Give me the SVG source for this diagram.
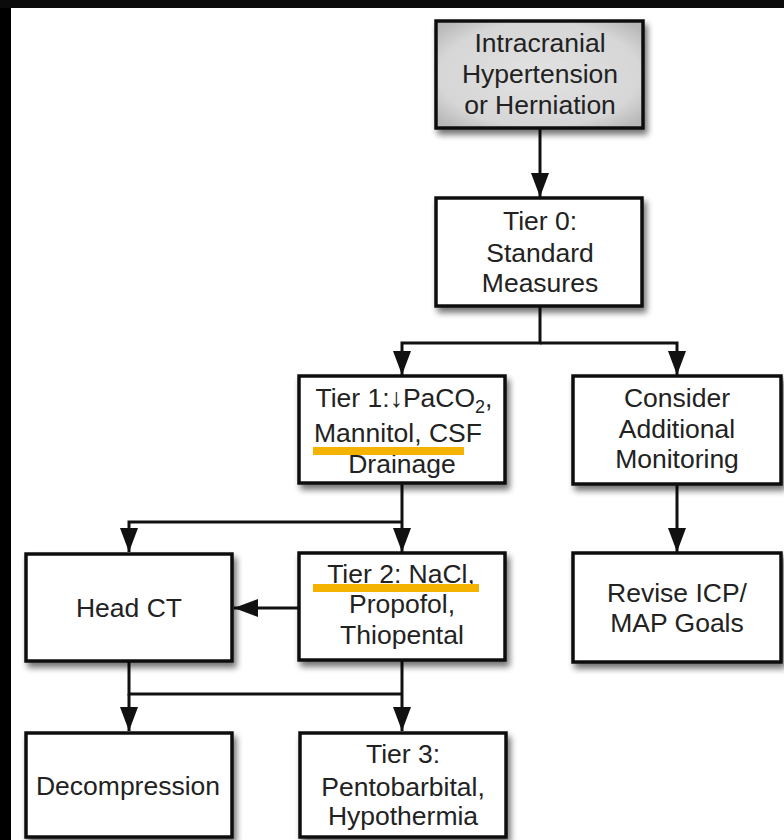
<svg xmlns="http://www.w3.org/2000/svg" width="784" height="840" viewBox="0 0 784 840">
  <defs>
    <style>
      .box { fill: #ffffff; stroke: #111111; stroke-width: 3.5; filter: url(#shadow); }
      .start { fill: url(#startFill); }
      .lbl { font-family: "Liberation Sans", Arial, Helvetica, sans-serif; font-size: 26.5px; fill: #222222; text-anchor: middle; }
      .wire { fill: none; stroke: #111111; stroke-width: 3; }
      .mark { fill: #f5b301; }
    </style>
    <filter id="shadow" x="-10%" y="-10%" width="130%" height="140%">
      <feGaussianBlur in="SourceAlpha" stdDeviation="3"/>
      <feOffset dx="3" dy="5" result="blur"/>
      <feComponentTransfer><feFuncA type="linear" slope="0.55"/></feComponentTransfer>
      <feMerge><feMergeNode/><feMergeNode in="SourceGraphic"/></feMerge>
    </filter>
    <radialGradient id="startFill" cx="50%" cy="50%" r="65%">
      <stop offset="0" stop-color="#e2e2e2"/>
      <stop offset="0.75" stop-color="#d6d6d6"/>
      <stop offset="1" stop-color="#b8b8b8"/>
    </radialGradient>
    <marker id="arrow" viewBox="0 0 24 18" refX="24" refY="9" markerWidth="24" markerHeight="18" markerUnits="userSpaceOnUse" orient="auto">
      <path d="M0,0 L24,9 L0,18 Z" fill="#111111"/>
    </marker>
  </defs>

  <!-- page frame -->
  <rect x="0" y="0" width="784" height="840" fill="#000000"/>
  <rect x="0" y="0" width="784" height="8" fill="#0b0b0b"/>
  <rect x="11" y="8" width="773" height="832" fill="#ffffff"/>

  <!-- connectors -->
  <g id="connectors">
    <path class="wire" d="M540,128 V197" marker-end="url(#arrow)"/>
    <path class="wire" d="M540,306 V343 H402 V375" marker-end="url(#arrow)"/>
    <path class="wire" d="M540,343 H677 V375" marker-end="url(#arrow)"/>
    <path class="wire" d="M402,483 V552" marker-end="url(#arrow)"/>
    <path class="wire" d="M402,522 H129 V552" marker-end="url(#arrow)"/>
    <path class="wire" d="M299,608 H234" marker-end="url(#arrow)"/>
    <path class="wire" d="M677,484 V552" marker-end="url(#arrow)"/>
    <path class="wire" d="M129,661 V694 H402" />
    <path class="wire" d="M129,694 V731" marker-end="url(#arrow)"/>
    <path class="wire" d="M402,660 V731" marker-end="url(#arrow)"/>
  </g>

  <g id="start">
    <rect class="box start" x="436" y="21" width="207" height="107"/>
    <text class="lbl" x="540" y="52">Intracranial</text>
    <text class="lbl" x="540" y="83">Hypertension</text>
    <text class="lbl" x="540" y="114">or Herniation</text>
  </g>

  <g id="tier0">
    <rect class="box" x="436" y="198" width="206" height="108"/>
    <text class="lbl" x="540" y="230">Tier 0:</text>
    <text class="lbl" x="540" y="262">Standard</text>
    <text class="lbl" x="540" y="292">Measures</text>
  </g>

  <g id="tier1">
    <rect class="box" x="299" y="376" width="206" height="107"/>
    <text class="lbl" x="404" y="407">Tier 1:↓PaCO<tspan font-size="18" dy="6">2</tspan><tspan dy="-6">,</tspan></text>
    <text class="lbl" x="398" y="442">Mannitol, CSF</text>
    <text class="lbl" x="402" y="473">Drainage</text>
    <rect class="mark" x="313" y="447" width="151" height="8"/>
  </g>

  <g id="monitoring">
    <rect class="box" x="573" y="376" width="208" height="108"/>
    <text class="lbl" x="677" y="407">Consider</text>
    <text class="lbl" x="677" y="438">Additional</text>
    <text class="lbl" x="677" y="468">Monitoring</text>
  </g>

  <g id="headct">
    <rect class="box" x="26" y="554" width="206" height="107"/>
    <text class="lbl" x="129" y="617">Head CT</text>
  </g>

  <g id="tier2">
    <rect class="box" x="299" y="553" width="206" height="107"/>
    <text class="lbl" x="401" y="583">Tier 2: NaCl,</text>
    <text class="lbl" x="402" y="613">Propofol,</text>
    <text class="lbl" x="402" y="644">Thiopental</text>
    <rect class="mark" x="313" y="584" width="166" height="8"/>
  </g>

  <g id="goals">
    <rect class="box" x="573" y="553" width="208" height="109"/>
    <text class="lbl" x="677" y="602">Revise ICP/</text>
    <text class="lbl" x="677" y="632">MAP Goals</text>
  </g>

  <g id="decompression">
    <rect class="box" x="26" y="733" width="206" height="104"/>
    <text class="lbl" x="128" y="795">Decompression</text>
  </g>

  <g id="tier3">
    <rect class="box" x="300" y="733" width="206" height="104"/>
    <text class="lbl" x="403" y="763">Tier 3:</text>
    <text class="lbl" x="403" y="796">Pentobarbital,</text>
    <text class="lbl" x="403" y="825">Hypothermia</text>
  </g>
</svg>
